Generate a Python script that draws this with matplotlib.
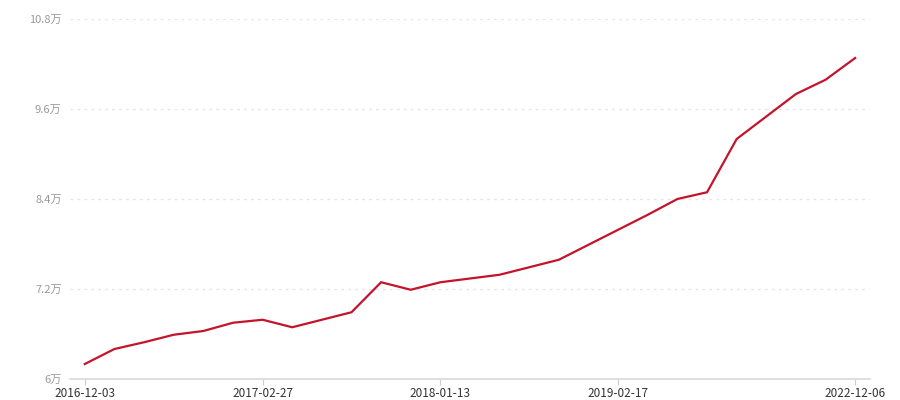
import matplotlib
matplotlib.use('Agg')
from matplotlib import pyplot as plt

# price trend, values in 万
dates = ['2016-12-03', '', '', '', '', '', '2017-02-27', '', '', '', '', '',
         '2018-01-13', '', '', '', '', '', '2019-02-17', '', '', '', '', '',
         '', '', '2022-12-06']
values = [6.20, 6.40, 6.49, 6.59, 6.64, 6.75, 6.79, 6.69, 6.79, 6.89, 7.29,
          7.19, 7.29, 7.34, 7.39, 7.49, 7.59, 7.79, 7.99, 8.19, 8.40, 8.49,
          9.20, 9.50, 9.80, 9.99, 10.28]
y_ticks = [6, 7.2, 8.4, 9.6, 10.8]
y_labels = ['6万', '7.2万', '8.4万', '9.6万', '10.8万']

plt.rcParams['font.family'] = ['Noto Sans CJK SC', 'DejaVu Sans']

fig = plt.figure(figsize=(9, 4), dpi=100)
ax = fig.add_axes([70 / 900, 21 / 400, 800 / 900, 360 / 400])

xs = list(range(len(values)))
ax.plot(xs, values, color='#C4142C', linewidth=1.6, solid_joinstyle='miter')

ax.set_xlim(-0.5, len(values) - 0.5)
ax.set_ylim(6, 10.8)

ax.set_yticks(y_ticks)
ax.set_yticklabels(y_labels, color='#999999', fontsize=8)
ax.tick_params(axis='y', length=0, pad=6)
ax.grid(axis='y', color='#e6e6e6', linestyle=(0, (2, 3)), linewidth=1)

tick_pos = [i for i in xs if dates[i]]
ax.set_xticks(tick_pos)
ax.set_xticklabels([dates[i] for i in tick_pos], color='#333333', fontsize=8.5)
ax.tick_params(axis='x', length=4, color='#cccccc', pad=2)

for side in ['top', 'right', 'left']:
    ax.spines[side].set_visible(False)
ax.spines['bottom'].set_color('#d9d9d9')
ax.spines['bottom'].set_linewidth(1.2)
ax.set_axisbelow(True)

fig.savefig('out.png', dpi=100)
